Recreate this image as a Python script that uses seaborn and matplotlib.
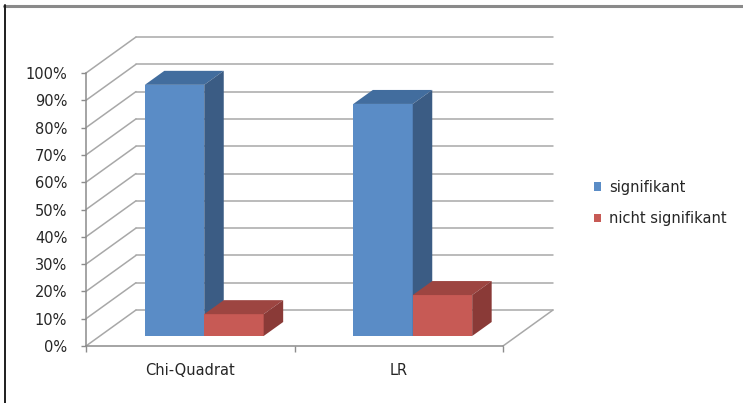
import matplotlib
matplotlib.use("Agg")
import matplotlib.pyplot as plt
from matplotlib.lines import Line2D
from matplotlib.patches import Polygon, Patch
import numpy as np
import pandas as pd
import seaborn as sns

# --- data -------------------------------------------------------------
methods = ["Chi-Quadrat", "LR"]
series = ["signifikant", "nicht signifikant"]
signifikant = [92, 85]
nicht_signifikant = [8, 15]
y_ticks = list(range(0, 101, 10))

df = pd.DataFrame({
    "Methode": methods * 2,
    "Status": [series[0]] * len(methods) + [series[1]] * len(methods),
    "Anteil": signifikant + nicht_signifikant,
})

# --- style ------------------------------------------------------------
sns.set_style("white")
plt.rcParams["font.family"] = ["DejaVu Sans"]
FRONT = {"signifikant": "#5a8cc6", "nicht signifikant": "#c75a55"}
TOP = {"signifikant": "#426d9e", "nicht signifikant": "#9d4541"}
SIDE = {"signifikant": "#3b5c84", "nicht signifikant": "#8a3a37"}
GRID = "#a8a8a8"
AXIS = "#8c8c8c"
TEXT = "#262626"
FS = 10.5

W, H, DPI = 743, 403, 100
fig = plt.figure(figsize=(W / DPI, H / DPI), dpi=DPI)

# front plane of the 3-D box (pixels)
x_left, x_right, y_zero, y_full = 86, 503, 346, 73
ax = fig.add_axes([x_left / W, 1 - y_zero / H,
                   (x_right - x_left) / W, (y_zero - y_full) / H])
ax.set_xlim(-0.5, len(methods) - 0.5)
ax.set_ylim(0, 100)

px_x = (x_right - x_left) / len(methods)   # pixels per category unit
px_y = (y_zero - y_full) / 100.0            # pixels per percent


def off(px, py):
    """pixel shift -> data shift"""
    return px / px_x, py / px_y


wall_dx, wall_dy = off(50, 36)   # back wall depth
bar_dx, bar_dy = off(14, 10)     # front face of the bars
deep_dx, deep_dy = off(19.5, 14) # depth of a bar

sns.barplot(data=df, x="Methode", y="Anteil", hue="Status",
            palette=[FRONT[s] for s in series], saturation=1,
            width=0.57, edgecolor="none", linewidth=0, legend=False,
            ax=ax)

# --- walls & gridlines ---------------------------------------------------
x0, x1 = ax.get_xlim()
for v in y_ticks:
    ax.add_line(Line2D([x0, x0 + wall_dx], [v, v + wall_dy], color=GRID,
                       lw=1.1, zorder=0.5, clip_on=False))
    ax.add_line(Line2D([x0 + wall_dx, x1 + wall_dx], [v + wall_dy] * 2,
                       color=GRID, lw=1.1, zorder=0.5, clip_on=False))
# floor right edge
ax.add_line(Line2D([x1, x1 + wall_dx], [0, wall_dy], color=GRID, lw=1.1,
                   zorder=0.5, clip_on=False))

# --- 3-D bars --------------------------------------------------------------
bars = sorted(ax.patches, key=lambda p: p.get_x())
colors_by_front = {v: k for k, v in FRONT.items()}
for i, p in enumerate(bars):
    bx, bw, bh = p.get_x(), p.get_width(), p.get_height()
    fc = matplotlib.colors.to_hex(p.get_facecolor())
    name = colors_by_front.get(fc, series[0])
    fx, fy = bx + bar_dx, bar_dy
    p.set_x(fx)
    p.set_y(fy)
    p.set_zorder(2 + i)
    p.set_clip_on(False)
    top = Polygon([(fx, fy + bh), (fx + bw, fy + bh),
                   (fx + bw + deep_dx, fy + bh + deep_dy),
                   (fx + deep_dx, fy + bh + deep_dy)],
                  closed=True, fc=TOP[name], ec="none", zorder=2 + i,
                  clip_on=False)
    side = Polygon([(fx + bw, fy), (fx + bw + deep_dx, fy + deep_dy),
                    (fx + bw + deep_dx, fy + bh + deep_dy), (fx + bw, fy + bh)],
                   closed=True, fc=SIDE[name], ec="none", zorder=2 + i,
                   clip_on=False)
    ax.add_patch(top)
    ax.add_patch(side)

# --- axes ----------------------------------------------------------------
sns.despine(ax=ax, top=True, right=True)
for s in ("left", "bottom"):
    ax.spines[s].set_color(AXIS)
    ax.spines[s].set_linewidth(1.1)
ax.set_yticks(y_ticks)
ax.set_yticklabels([f"{v}%" for v in y_ticks])
ax.tick_params(axis="y", length=3.5, width=1, color=AXIS, pad=10,
               labelsize=FS, labelcolor=TEXT, left=True)
ax.set_xticks(range(len(methods)))
ax.set_xticklabels(methods)
ax.set_xticks(np.arange(-0.5, len(methods), 1.0), minor=True)
ax.tick_params(axis="x", which="major", length=0, pad=12, labelsize=FS,
               labelcolor=TEXT)
ax.tick_params(axis="x", which="minor", length=4, width=1, color=AXIS,
               bottom=True)
ax.set_xlabel("")
ax.set_ylabel("")
ax.grid(False)

# --- legend ---------------------------------------------------------------
handles = [Patch(fc=FRONT[s], ec="none") for s in series]
fig.legend(handles, series, loc="center left",
           bbox_to_anchor=(581 / W, 1 - 203 / H), frameon=False,
           handlelength=0.5, handleheight=0.5, handletextpad=0.5,
           labelspacing=1.12, fontsize=FS, labelcolor=TEXT)

# --- chart frame ------------------------------------------------------------
fig.add_artist(Line2D([4 / W, 1], [1 - 5.5 / H] * 2, color="#8a8a8a", lw=2.2))
fig.add_artist(Line2D([4.5 / W] * 2, [0, 1 - 5 / H], color="#1e1e1e", lw=1.4))

fig.savefig("out.png", dpi=DPI)
